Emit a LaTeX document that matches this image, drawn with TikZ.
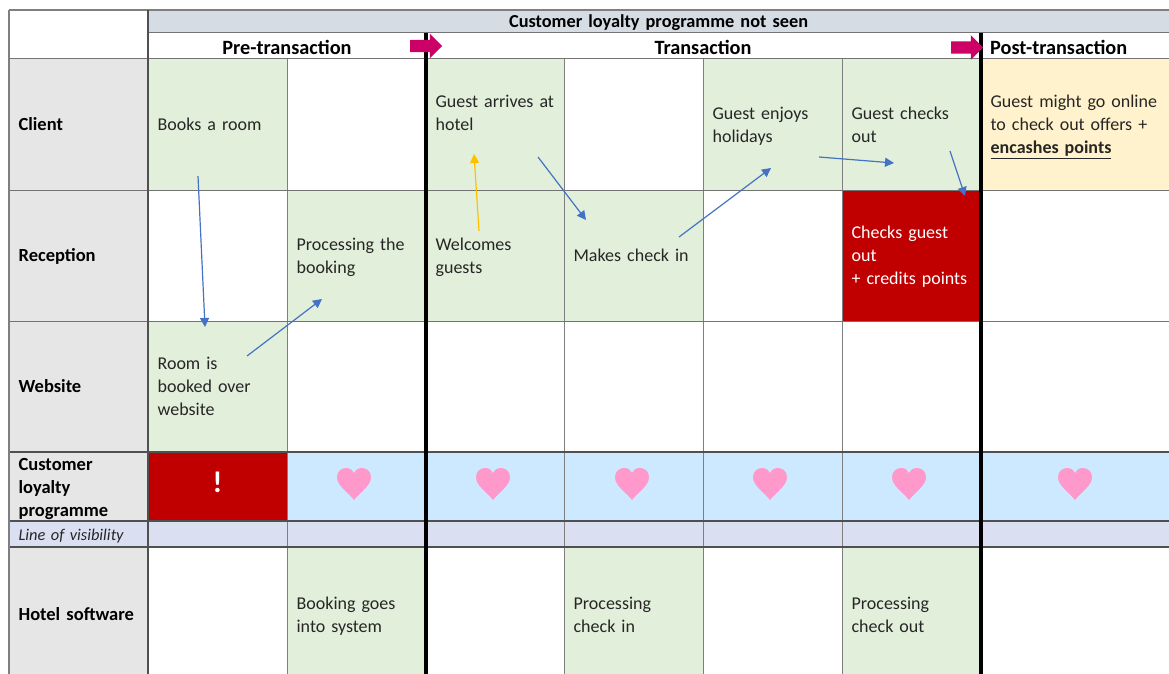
\documentclass[tikz,border=0pt]{standalone}
\usepackage{fontspec}
\setmainfont{Carlito}
\usetikzlibrary{arrows.meta, shapes.arrows}
\definecolor{cellgreen}{HTML}{E2EFDA}
\definecolor{cellred}{HTML}{C00000}
\definecolor{cellcream}{HTML}{FFF2CC}
\definecolor{rowgrey}{HTML}{E7E6E6}
\definecolor{rowblue}{HTML}{CCE9FF}
\definecolor{rowline}{HTML}{DAE0F2}
\definecolor{topband}{HTML}{D6DCE4}
\definecolor{gridgrey}{HTML}{7F7F7F}
\definecolor{griddark}{HTML}{505050}
\definecolor{arrowblue}{HTML}{4472C4}
\definecolor{arrowgold}{HTML}{FFC000}
\definecolor{stagepink}{HTML}{CC0066}
\definecolor{heartpink}{HTML}{FF99CC}
\definecolor{celltext}{HTML}{262626}

\begin{document}
\begin{tikzpicture}[
        x=1pt, y=-1pt,
        cell/.style={rectangle, anchor=north west, inner xsep=9.6pt, inner ysep=0pt, outer sep=0pt, text width=119.8pt, minimum height=131pt, align=left, text=celltext, font=\fontsize{18}{23}\selectfont, execute at begin node={\rule{0pt}{19pt}}, execute at end node=\strut},
        green/.style={cell, fill=cellgreen},
        red/.style={cell, fill=cellred, text=white},
        rowhead/.style={cell, fill=rowgrey, text=black, font=\fontsize{18.5}{23}\selectfont\bfseries},
        stage/.style={anchor=center, inner sep=0pt, text=black, font=\fontsize{20.3}{23}\selectfont\bfseries},
        flow/.style={-{Triangle[length=9pt, width=9pt]}, arrowblue, line width=1.2pt},
        stagearrow/.style={single arrow, fill=stagepink, inner xsep=0pt, inner ysep=6pt, outer sep=0pt, minimum height=32pt, single arrow head extend=6pt, single arrow head indent=0pt}
    ]

    \clip (0,0) rectangle (1169,674);

    % Header
    \node (seen) [cell, fill=topband, text=black, text width=1002pt, minimum height=24pt, align=center, font=\fontsize{18.3}{18}\selectfont\bfseries] at (148,9) {Customer loyalty programme not seen};
    \node (pre) [stage] at (287,47) {Pre-transaction};
    \node (trans) [stage] at (703,47) {Transaction};
    \node (post) [stage, anchor=west] at (990,47) {Post-transaction};

    % Row titles
    \node (client) [rowhead] at (9,59) {Client};
    \node (reception) [rowhead] at (9,190) {Reception};
    \node (website) [rowhead] at (9,321) {Website};
    \node (loyalty) [rowhead, minimum height=69pt] at (9,451) {Customer\\loyalty\\programme};
    \node (visibility) [rowhead, minimum height=26pt, fill=rowline, text=celltext, font=\fontsize{16.4}{20}\selectfont\itshape] at (9,521) {Line of visibility};
    \node (software) [rowhead, minimum height=135pt] at (9,547) {Hotel software};

    % Client
    \node (books) [green] at (148,59) {Books a room};
    \node (arrives) [green, text width=118.8pt] at (426,59) {Guest arrives at\\hotel\\~};
    \node (enjoys) [green] at (703,59) {Guest enjoys\\holidays};
    \node (checks) [green] at (842,59) {Guest checks\\out};
    \node (offers) [cell, fill=cellcream, text width=168.8pt] at (981,59) {Guest might go online\\to check out offers +\\\textbf{\underline{encashes points}}};

    % Reception
    \node (processing) [green] at (287,190) {Processing the\\booking};
    \node (welcomes) [green, text width=118.8pt] at (426,190) {Welcomes\\guests};
    \node (checkin) [green] at (564,190) {Makes check in};
    \node (checkout) [red] at (842,190) {Checks guest\\out\\+ credits points};

    % Website
    \node (booked) [green] at (148,321) {Room is\\booked over\\website};

    % Customer loyalty programme
    \node (warning) [red, minimum height=69pt, align=center, font=\fontsize{30}{30}\selectfont\bfseries] at (148,452) {!};
    \fill [rowblue] (287,452) rectangle (1169,521);
    \fill [rowline] (148,521) rectangle (1169,547);
    \foreach \hx in {354,493,632,770,909,1075}
        \fill [heartpink, shift={(\hx,0)}] (0,500) .. controls (-6,492) and (-17,486) .. (-17,477) .. controls (-17,471) and (-12,468) .. (-8,468) .. controls (-4,468) and (-1,470) .. (0,473) .. controls (1,470) and (4,468) .. (8,468) .. controls (12,468) and (17,471) .. (17,477) .. controls (17,486) and (6,492) .. (0,500) -- cycle;

    % Hotel software
    \node (system) [green, minimum height=135pt] at (287,547) {Booking goes\\into system};
    \node (procin) [green, minimum height=135pt] at (564,547) {Processing\\check in};
    \node (procout) [green, minimum height=135pt] at (842,547) {Processing\\check out};

    % Grid
    \foreach \gx in {287,564,703,842}
        \draw [gridgrey, line width=1pt] (\gx,59) -- (\gx,674);
    \foreach \gy in {59,190,321}
        \draw [griddark!80, line width=1pt] (9,\gy) -- (1169,\gy);
    \foreach \gy in {452,521,547}
        \draw [griddark, line width=1.6pt] (9,\gy) -- (1169,\gy);
    \draw [griddark!80, line width=1pt] (148,33) -- (1169,33);
    \draw [gridgrey, line width=1.4pt] (9,10) -- (1169,10);
    \draw [gridgrey, line width=1.2pt] (9,10) -- (9,674);
    \draw [griddark, line width=2pt] (148,10) -- (148,674);
    \draw [black, line width=3.5pt] (426,33) -- (426,674);
    \draw [black, line width=3.5pt] (981,33) -- (981,674);

    % Stage arrows
    \node (tostart) [stagearrow] at (423,46) {};
    \node (toend) [stagearrow] at (964,47.5) {};

    % Flow arrows
    \coordinate (a1) at (198,176); \coordinate (a2) at (205,327);
    \coordinate (b1) at (247,356); \coordinate (b2) at (322,299);
    \coordinate (c1) at (479,231); \coordinate (c2) at (474,154);
    \coordinate (d1) at (538,157); \coordinate (d2) at (586,220);
    \coordinate (e1) at (679,237); \coordinate (e2) at (771,168);
    \coordinate (f1) at (819,157); \coordinate (f2) at (894,163);
    \coordinate (g1) at (950,151); \coordinate (g2) at (965,196);
    \draw [flow] (a1) -- (a2);
    \draw [flow] (b1) -- (b2);
    \draw [flow, arrowgold] (c1) -- (c2);
    \draw [flow] (d1) -- (d2);
    \draw [flow] (e1) -- (e2);
    \draw [flow] (f1) -- (f2);
    \draw [flow] (g1) -- (g2);

\end{tikzpicture}
\end{document}
